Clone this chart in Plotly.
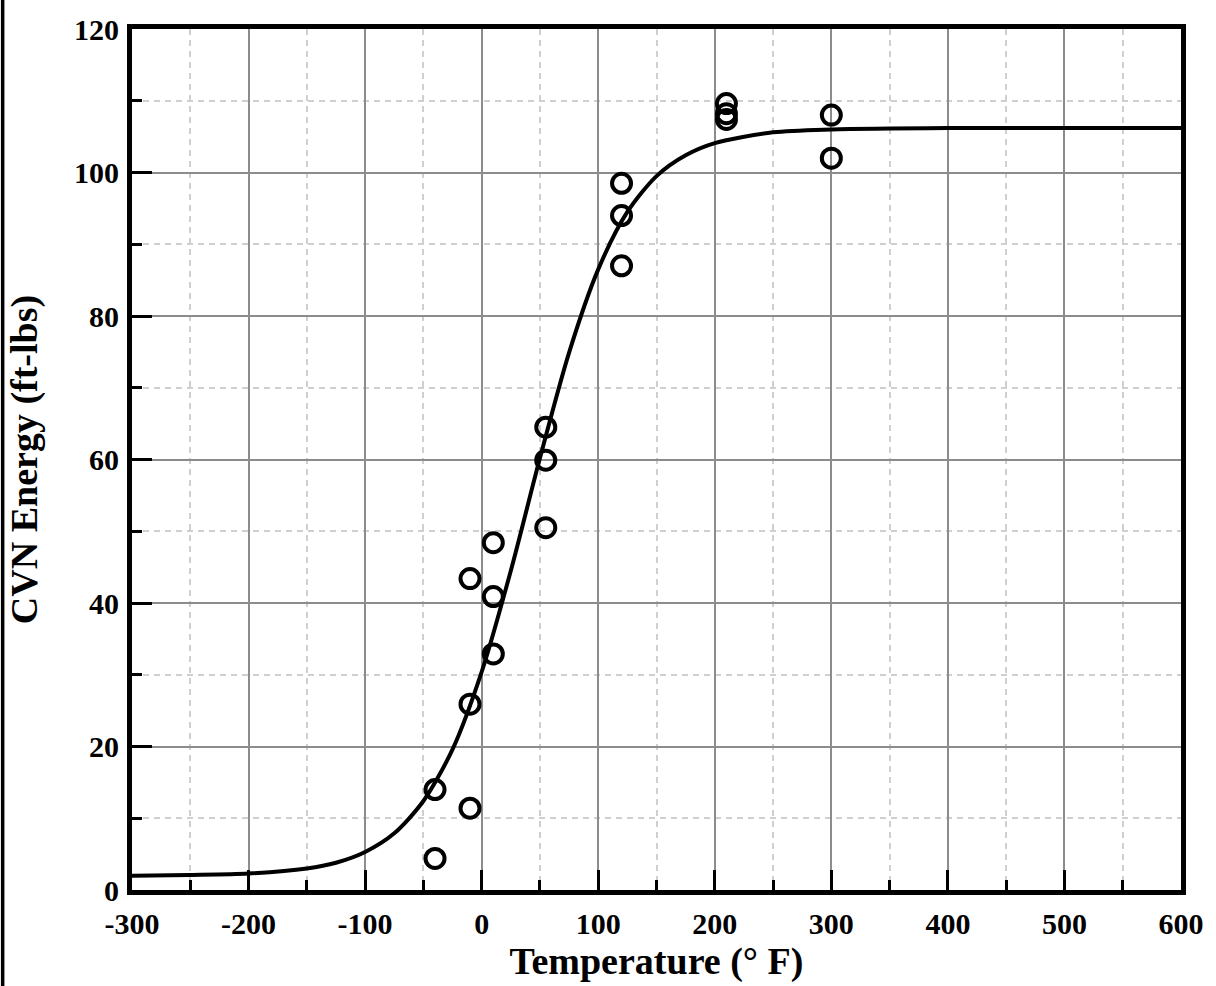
import plotly.graph_objects as go

# Measured data points (Temperature °F, CVN energy ft-lbs)
temp_pts = [-40, -40, -10, -10, -10, 10, 10, 10, 55, 55, 55, 120, 120, 120, 210, 210, 210, 300, 300]
cvn_pts = [14.0, 4.4, 43.4, 25.9, 11.4, 48.4, 40.9, 32.9, 64.5, 59.9, 50.5, 98.5, 94.0, 87.0, 109.6, 108.2, 107.4, 108.0, 102.0]

# Fitted curve values
curve_t = [-300, -250, -200, -150, -125, -100, -75, -50, -25, 0, 25, 50, 75, 100, 125, 150, 175, 200, 250, 300, 400, 500, 600]
curve_e = [2.0, 2.1, 2.3, 3.0, 3.8, 5.3, 7.9, 12.4, 19.6, 30.4, 44.5, 60.2, 74.9, 86.5, 94.5, 99.5, 102.4, 104.1, 105.6, 106.0, 106.2, 106.2, 106.2]

x_ticks = [-300, -200, -100, 0, 100, 200, 300, 400, 500, 600]
y_ticks = [0, 20, 40, 60, 80, 100, 120]

FONT = "Liberation Serif"

fig = go.Figure()
fig.add_trace(go.Scatter(
    x=curve_t, y=curve_e, mode="lines",
    line=dict(color="black", width=4, shape="spline", smoothing=0.8),
    hoverinfo="skip", showlegend=False,
))
fig.add_trace(go.Scatter(
    x=temp_pts, y=cvn_pts, mode="markers",
    marker=dict(symbol="circle-open", size=19, color="black", line=dict(color="black", width=4)),
    showlegend=False,
))

axis_common = dict(
    showline=True, linecolor="black", linewidth=5, mirror=True,
    ticks="inside", ticklen=20, tickwidth=3, tickcolor="black",
    showgrid=True, gridcolor="#8c8c8c", gridwidth=2,
    zeroline=False,
    tickfont=dict(family=FONT, size=30, color="black", weight="bold"),
)

fig.update_xaxes(
    range=[-300, 600], tickvals=x_ticks, ticktext=[str(v) for v in x_ticks],
    minor=dict(dtick=50, ticks="inside", ticklen=10, tickwidth=2.5, tickcolor="black",
               showgrid=True, gridcolor="#cfcfcf", gridwidth=1.5, griddash="6px,5px"),
    title=dict(text="Temperature (° F)", font=dict(family=FONT, size=38, color="black", weight="bold"), standoff=6),
    ticklabelstandoff=3,
    **axis_common,
)
fig.update_yaxes(
    range=[0, 120], tickvals=y_ticks, ticktext=[str(v) for v in y_ticks],
    minor=dict(dtick=10, ticks="inside", ticklen=10, tickwidth=2.5, tickcolor="black",
               showgrid=True, gridcolor="#cfcfcf", gridwidth=1.5, griddash="6px,5px"),
    title=dict(text="CVN Energy (ft-lbs)", font=dict(family=FONT, size=38, color="black", weight="bold"), standoff=26),
    ticklabelstandoff=2,
    **axis_common,
)

fig.add_shape(type="line", xref="paper", yref="paper",
              x0=-0.1233, x1=-0.1233, y0=-0.12, y1=1.04,
              line=dict(color="black", width=3.5))

fig.update_layout(
    width=1216, height=986,
    margin=dict(l=132, r=26, t=25, b=96),
    paper_bgcolor="white", plot_bgcolor="white",
    font=dict(family=FONT, color="black"),
)

fig.write_html("out.html")
